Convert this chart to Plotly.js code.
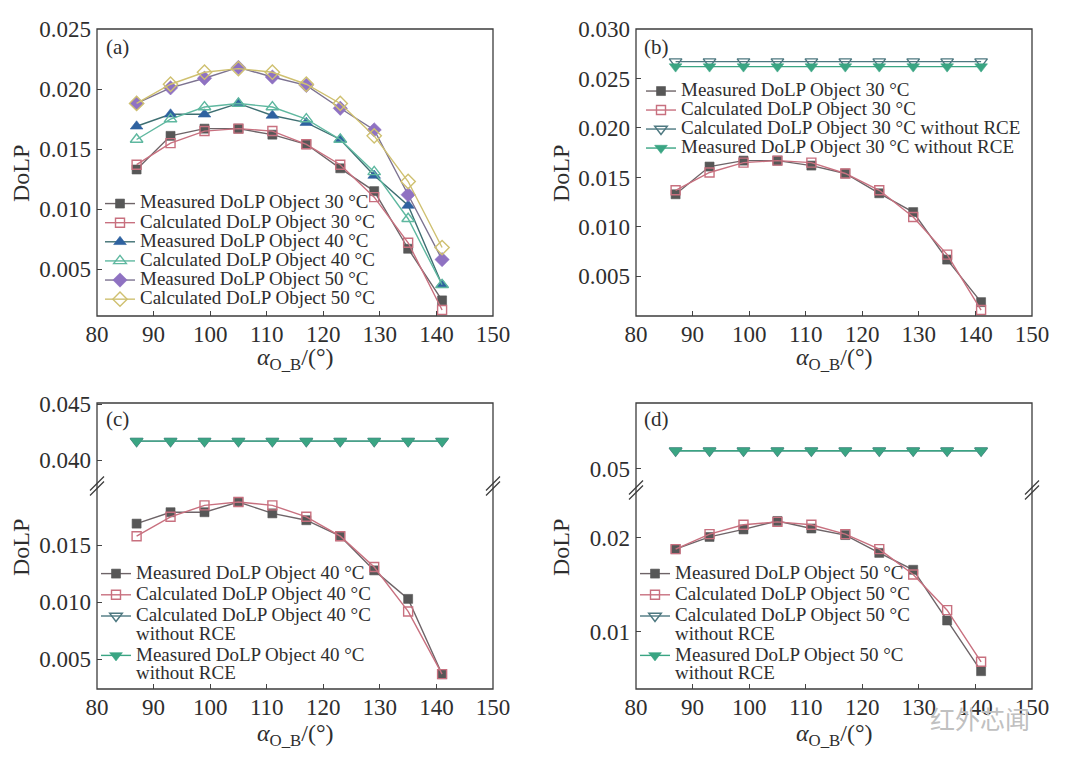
<!DOCTYPE html>
<html>
<head>
<meta charset="utf-8">
<script src="https://cdn.plot.ly/plotly-3.0.1.min.js"></script>
<style>html,body{margin:0;padding:0;background:#fff;}#chart{width:1080px;height:765px;}</style>
</head>
<body>
<div id="chart"></div>
<script>
// ---------------- data ----------------
const angle = [87, 93, 99, 105, 111, 117, 123, 129, 135, 141];

const measured30 = [0.0133, 0.0161, 0.0167, 0.0167, 0.0162, 0.0154, 0.0134, 0.0115, 0.0067, 0.0024];
const calculated30 = [0.0137, 0.0155, 0.0165, 0.0167, 0.0165, 0.0154, 0.0137, 0.0110, 0.0072, 0.0016];
const measured40 = [0.0169, 0.0179, 0.0179, 0.0188, 0.0178, 0.0172, 0.0158, 0.0128, 0.0103, 0.0037];
const calculated40 = [0.0158, 0.0175, 0.0185, 0.0188, 0.0185, 0.0175, 0.0158, 0.0131, 0.0092, 0.0037];
const measured50 = [0.0188, 0.0201, 0.0209, 0.0218, 0.0210, 0.0203, 0.0184, 0.0166, 0.0112, 0.0058];
const calculated50 = [0.0188, 0.0204, 0.0214, 0.0217, 0.0214, 0.0204, 0.0188, 0.0161, 0.0123, 0.0068];

const calculated30NoRCE = [0.0267, 0.0267, 0.0267, 0.0267, 0.0267, 0.0267, 0.0267, 0.0267, 0.0267, 0.0267];
const measured30NoRCE = [0.0262, 0.0262, 0.0262, 0.0262, 0.0262, 0.0262, 0.0262, 0.0262, 0.0262, 0.0262];
const calculated40NoRCE = [0.0417, 0.0417, 0.0417, 0.0417, 0.0417, 0.0417, 0.0417, 0.0417, 0.0417, 0.0417];
const measured40NoRCE = [0.0417, 0.0417, 0.0417, 0.0417, 0.0417, 0.0417, 0.0417, 0.0417, 0.0417, 0.0417];
const calculated50NoRCE = [0.0519, 0.0519, 0.0519, 0.0519, 0.0519, 0.0519, 0.0519, 0.0519, 0.0519, 0.0519];
const measured50NoRCE = [0.0519, 0.0519, 0.0519, 0.0519, 0.0519, 0.0519, 0.0519, 0.0519, 0.0519, 0.0519];

const xTicks = [80, 90, 100, 110, 120, 130, 140, 150];
const yTicksA = [0.005, 0.010, 0.015, 0.020, 0.025];
const yTicksB = [0.005, 0.010, 0.015, 0.020, 0.025, 0.030];
const yTicksCLow = [0.005, 0.010, 0.015];
const yTicksCUp = [0.040, 0.045];
const yTicksDLow = [0.01, 0.02];
const yTicksDUp = [0.05];

const panelLabels = ['(a)', '(b)', '(c)', '(d)'];
const yTitle = 'DoLP';
const xTitle = '<i>α</i><sub>O_B</sub>/(°)';
const watermark = '红外芯闻';

// ---------------- helpers ----------------
const W = 1080, H = 765;
const px = v => v / W;
const py = v => 1 - v / H;
const FONT = 'Liberation Serif, Times New Roman, serif';
const TXT = '#2e2e2e';
const LEGFS = 19;
const lbl = s => '<span style="font-size:' + LEGFS + 'px">' + s + '</span>';

const C = {
  m30: '#575757', m30l: '#6e6468',
  c30: '#c8707f',
  m40: '#2f62a0', m40l: '#3e6f72',
  c40: '#5fb8a0',
  m50: '#8f72c2', m50l: '#7c7290',
  c50: '#cfc070',
  cNo: '#4d7880', mNo: '#3aa583'
};

function tr(y, name, xa, ya, leg, col, lineCol, sym, size) {
  const open = sym.indexOf('open') >= 0;
  return {
    x: angle, y: y, name: lbl(name), xaxis: xa, yaxis: ya, legend: leg,
    type: 'scatter', mode: 'lines+markers',
    line: {color: lineCol, width: 1.4},
    marker: {symbol: sym, size: size, color: col,
             line: {color: col, width: open ? 1.4 : 0.6}},
    hoverinfo: 'skip'
  };
}

const SQ = 9, TR = 11, DI = 11;
const traces = [
  // (a)
  tr(measured30, 'Measured DoLP Object 30 °C', 'x', 'y', 'legend', C.m30, C.m30l, 'square', SQ),
  tr(calculated30, 'Calculated DoLP Object 30 °C', 'x', 'y', 'legend', C.c30, C.c30, 'square-open', SQ),
  tr(measured40, 'Measured DoLP Object 40 °C', 'x', 'y', 'legend', C.m40, C.m40l, 'triangle-up', TR),
  tr(calculated40, 'Calculated DoLP Object 40 °C', 'x', 'y', 'legend', C.c40, C.c40, 'triangle-up-open', TR),
  tr(measured50, 'Measured DoLP Object 50 °C', 'x', 'y', 'legend', C.m50, C.m50l, 'diamond', DI),
  tr(calculated50, 'Calculated DoLP Object 50 °C', 'x', 'y', 'legend', C.c50, C.c50, 'diamond-open', DI),
  // (b)
  tr(measured30, 'Measured DoLP Object 30 °C', 'x2', 'y2', 'legend2', C.m30, C.m30l, 'square', SQ),
  tr(calculated30, 'Calculated DoLP Object 30 °C', 'x2', 'y2', 'legend2', C.c30, C.c30, 'square-open', SQ),
  tr(calculated30NoRCE, 'Calculated DoLP Object 30 °C without RCE', 'x2', 'y2', 'legend2', C.cNo, C.cNo, 'triangle-down-open', TR),
  tr(measured30NoRCE, 'Measured DoLP Object 30 °C without RCE', 'x2', 'y2', 'legend2', C.mNo, C.mNo, 'triangle-down', TR),
  // (c)
  tr(measured40, 'Measured DoLP Object 40 °C', 'x3', 'y3', 'legend3', C.m30, C.m30l, 'square', SQ),
  tr(calculated40, 'Calculated DoLP Object 40 °C', 'x3', 'y3', 'legend3', C.c30, C.c30, 'square-open', SQ),
  tr(calculated40NoRCE, 'Calculated DoLP Object 40 °C<br>without RCE', 'x3', 'y4', 'legend3', C.cNo, C.cNo, 'triangle-down-open', TR),
  tr(measured40NoRCE, 'Measured DoLP Object 40 °C<br>without RCE', 'x3', 'y4', 'legend3', C.mNo, C.mNo, 'triangle-down', TR),
  // (d)
  tr(measured50, 'Measured DoLP Object 50 °C', 'x4', 'y5', 'legend4', C.m30, C.m30l, 'square', SQ),
  tr(calculated50, 'Calculated DoLP Object 50 °C', 'x4', 'y5', 'legend4', C.c30, C.c30, 'square-open', SQ),
  tr(calculated50NoRCE, 'Calculated DoLP Object 50 °C<br>without RCE', 'x4', 'y6', 'legend4', C.cNo, C.cNo, 'triangle-down-open', TR),
  tr(measured50NoRCE, 'Measured DoLP Object 50 °C<br>without RCE', 'x4', 'y6', 'legend4', C.mNo, C.mNo, 'triangle-down', TR)
];

const tickFont = {family: FONT, size: 23, color: TXT};
function xa(dom, anchor) {
  return {domain: dom, anchor: anchor, range: [80, 150], tickvals: xTicks,
          ticks: 'inside', ticklen: 5, tickcolor: '#444', showline: false,
          showgrid: false, zeroline: false, tickfont: tickFont, fixedrange: true,
          ticklabelstandoff: 2};
}
function ya(dom, anchor, range, vals, fmt) {
  return {domain: dom, anchor: anchor, range: range, tickvals: vals, tickformat: fmt,
          ticks: 'inside', ticklen: 5, tickcolor: '#444', showline: false,
          showgrid: false, zeroline: false, tickfont: tickFont, fixedrange: true,
          ticklabelstandoff: 5};
}

const L = {a: 97, b: 636}, R = {a: 493, b: 1032};
const topT = 29, topB = 316, botT = 403, botB = 689, brkC = 486, brkD = 490;

const legBase = {font: {family: FONT, size: 13, color: TXT}, bgcolor: 'rgba(0,0,0,0)',
                 borderwidth: 0, xanchor: 'left', yanchor: 'top', itemwidth: 30,
                 valign: 'top', tracegroupgap: 0, traceorder: 'normal'};

function frame(x0, x1, y0, y1) {
  return {type: 'rect', xref: 'paper', yref: 'paper', x0: px(x0), x1: px(x1),
          y0: py(y1), y1: py(y0), line: {color: '#3c3c3c', width: 1.3}, fillcolor: 'rgba(0,0,0,0)', layer: 'above'};
}
function brk(xc, yc) {
  const out = [];
  [-2.5, 2.5].forEach(o => {
    out.push({type: 'line', xref: 'paper', yref: 'paper',
      x0: px(xc - 7), y0: py(yc + 7 + o), x1: px(xc + 7), y1: py(yc - 7 + o),
      line: {color: '#3c3c3c', width: 1.3}, layer: 'above'});
  });
  return out;
}

const shapes = [
  frame(L.a, R.a, topT, topB), frame(L.b, R.b, topT, topB),
  frame(L.a, R.a, botT, botB), frame(L.b, R.b, botT, botB),
  ...brk(L.a, brkC), ...brk(R.a, brkC), ...brk(L.b, brkD), ...brk(R.b, brkD)
];

const annFont = {family: FONT, size: 21, color: TXT};
const titleFont = {family: FONT, size: 24, color: TXT};
const annotations = [
  {text: panelLabels[0], x: px(117), y: py(47)},
  {text: panelLabels[1], x: px(656), y: py(47)},
  {text: panelLabels[2], x: px(117), y: py(419)},
  {text: panelLabels[3], x: px(656), y: py(419)},
  {text: yTitle, x: px(21), y: py(174), textangle: -90, font: titleFont},
  {text: yTitle, x: px(561), y: py(174), textangle: -90, font: titleFont},
  {text: yTitle, x: px(21), y: py(548), textangle: -90, font: titleFont},
  {text: yTitle, x: px(561), y: py(548), textangle: -90, font: titleFont},
  {text: xTitle, x: px(295), y: py(359), font: titleFont},
  {text: xTitle, x: px(834), y: py(359), font: titleFont},
  {text: xTitle, x: px(295), y: py(735), font: titleFont},
  {text: xTitle, x: px(834), y: py(735), font: titleFont},
  {text: watermark, x: px(980), y: py(718), font: {family: 'Noto Sans CJK SC', size: 25, color: '#c0c0c0'}}
].map(a => Object.assign({xref: 'paper', yref: 'paper', showarrow: false, xanchor: 'center', yanchor: 'middle', font: annFont}, a));

const layout = {
  width: W, height: H, margin: {l: 0, r: 0, t: 0, b: 0},
  paper_bgcolor: '#fff', plot_bgcolor: 'rgba(0,0,0,0)',
  font: {family: FONT, color: TXT},
  showlegend: true,
  xaxis: xa([px(L.a), px(R.a)], 'y'),
  yaxis: ya([py(topB), py(topT)], 'x', [0.0011, 0.025], yTicksA, '.3f'),
  xaxis2: xa([px(L.b), px(R.b)], 'y2'),
  yaxis2: ya([py(topB), py(topT)], 'x2', [0.001, 0.030], yTicksB, '.3f'),
  xaxis3: xa([px(L.a), px(R.a)], 'y3'),
  yaxis3: ya([py(botB), py(brkC)], 'x3', [0.0024, 0.0202], yTicksCLow, '.3f'),
  yaxis4: ya([py(brkC), py(botT)], 'x3', [0.0377, 0.0451], yTicksCUp, '.3f'),
  xaxis4: xa([px(L.b), px(R.b)], 'y5'),
  yaxis5: ya([py(botB), py(brkD)], 'x4', [0.0039, 0.0251], yTicksDLow, '.2f'),
  yaxis6: ya([py(brkD), py(botT)], 'x4', [0.0477, 0.057], yTicksDUp, '.2f'),
  legend: Object.assign({}, legBase, {x: px(100), y: py(189), font: {family: FONT, size: 12.4, color: TXT}}),
  legend2: Object.assign({}, legBase, {x: px(641), y: py(77), font: {family: FONT, size: 11.6, color: TXT}}),
  legend3: Object.assign({}, legBase, {x: px(96), y: py(558), font: {family: FONT, size: 14, color: TXT}}),
  legend4: Object.assign({}, legBase, {x: px(635), y: py(558), font: {family: FONT, size: 14, color: TXT}}),
  shapes: shapes,
  annotations: annotations
};

Plotly.newPlot('chart', traces, layout, {staticPlot: true, displayModeBar: false});
</script>
</body>
</html>
